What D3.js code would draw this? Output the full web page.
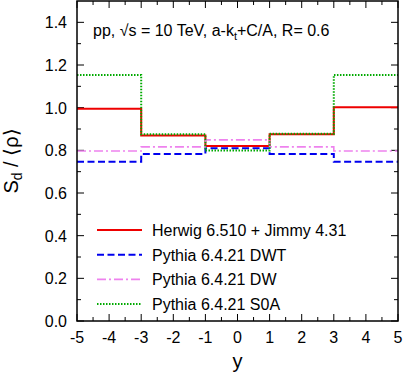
<!DOCTYPE html>
<html>
<head>
<meta charset="utf-8">
<script src="https://cdn.jsdelivr.net/npm/d3@7"></script>
<style>
  body { margin: 0; background: #fff; }
  text { font-family: "Liberation Sans", Arial, sans-serif; }
</style>
</head>
<body>
<div id="chart"></div>
<script>
var svgWidth = 405;
var svgHeight = 374;

// bin edges in y, and S_d/<rho> per bin
var binEdges = [-5, -3, -1, 1, 3, 5];
var herwig = [0.995, 0.870, 0.820, 0.875, 1.002];
var pythiaDWT = [0.747, 0.783, 0.810, 0.783, 0.747];
var pythiaDW = [0.797, 0.816, 0.849, 0.816, 0.797];
var pythiaS0A = [1.153, 0.875, 0.799, 0.878, 1.153];

var seriesNames = ["Herwig 6.510 + Jimmy 4.31", "Pythia 6.4.21 DWT", "Pythia 6.4.21 DW", "Pythia 6.4.21 S0A"];
var xTicks = [-5, -4, -3, -2, -1, 0, 1, 2, 3, 4, 5];
var yTicks = [0.0, 0.2, 0.4, 0.6, 0.8, 1.0, 1.2, 1.4];

var chartMargin = { top: 1, right: 7, bottom: 53, left: 77 };
var chartWidth = svgWidth - chartMargin.left - chartMargin.right;
var chartHeight = svgHeight - chartMargin.top - chartMargin.bottom;

var svg = d3.select("#chart").append("svg")
  .attr("width", svgWidth)
  .attr("height", svgHeight);

var chartGroup = svg.append("g")
  .attr("transform", `translate(${chartMargin.left}, ${chartMargin.top})`);

var xScale = d3.scaleLinear().domain([-5, 5]).range([0, chartWidth]);
var yScale = d3.scaleLinear().domain([0, 1.5]).range([chartHeight, 0]);

// ticks on all four sides, pointing inward
var majLen = 7, minLen = 4;
var xMinor = d3.range(-4.5, 5, 1);
var yMinor = d3.range(0.1, 1.5, 0.2);

function tickLines(vals, len, horizontal) {
  vals.forEach(function(v) {
    if (horizontal) {
      var x = xScale(v);
      chartGroup.append("line").attr("x1", x).attr("x2", x)
        .attr("y1", chartHeight).attr("y2", chartHeight - len).attr("stroke", "#000");
      chartGroup.append("line").attr("x1", x).attr("x2", x)
        .attr("y1", 0).attr("y2", len).attr("stroke", "#000");
    } else {
      var y = yScale(v);
      chartGroup.append("line").attr("x1", 0).attr("x2", len)
        .attr("y1", y).attr("y2", y).attr("stroke", "#000");
      chartGroup.append("line").attr("x1", chartWidth).attr("x2", chartWidth - len)
        .attr("y1", y).attr("y2", y).attr("stroke", "#000");
    }
  });
}
tickLines(xTicks, majLen, true);
tickLines(xMinor, minLen, true);
tickLines(yTicks, majLen, false);
tickLines(yMinor, minLen, false);

// tick labels
chartGroup.selectAll(".xlab").data(xTicks).enter().append("text")
  .attr("x", d => xScale(d))
  .attr("y", chartHeight + 22)
  .attr("text-anchor", "middle")
  .style("font-size", "16px")
  .text(d => d);

chartGroup.selectAll(".ylab").data(yTicks).enter().append("text")
  .attr("x", -10)
  .attr("y", d => yScale(d) + 6)
  .attr("text-anchor", "end")
  .style("font-size", "16px")
  .text(d => d.toFixed(1));

// axis titles
chartGroup.append("text")
  .attr("x", chartWidth / 2)
  .attr("y", chartHeight + 47)
  .attr("text-anchor", "middle")
  .style("font-size", "20px")
  .text("y");

var yTitle = svg.append("text")
  .attr("transform", `translate(18, ${chartMargin.top + chartHeight / 2}) rotate(-90)`)
  .attr("text-anchor", "middle")
  .style("font-size", "20px");
yTitle.append("tspan").text("S");
yTitle.append("tspan").attr("dy", 4).style("font-size", "14px").text("d");
yTitle.append("tspan").attr("dy", -4).text(" / \u27E8\u03C1\u27E9");

// step curves
var styles = [
  { color: "#ee0000", dash: null, width: 2 },
  { color: "#0000ee", dash: "7,3.5", width: 2 },
  { color: "#ee82ee", dash: "9,3,2,3", width: 1.6 },
  { color: "#00aa00", dash: "1.5,1.5", width: 2 }
];
var allSeries = [herwig, pythiaDWT, pythiaDW, pythiaS0A];

var stepLine = d3.line()
  .x(d => xScale(d[0]))
  .y(d => yScale(d[1]))
  .curve(d3.curveStepAfter);

allSeries.forEach(function(vals, i) {
  var pts = vals.map((v, j) => [binEdges[j], v]);
  pts.push([binEdges[binEdges.length - 1], vals[vals.length - 1]]);
  chartGroup.append("path")
    .datum(pts)
    .attr("d", stepLine)
    .attr("fill", "none")
    .attr("stroke", styles[i].color)
    .attr("stroke-width", styles[i].width)
    .attr("stroke-dasharray", styles[i].dash);
});

// frame
chartGroup.append("rect")
  .attr("width", chartWidth).attr("height", chartHeight)
  .attr("fill", "none").attr("stroke", "#000").attr("stroke-width", 1.5);

// header text
var head = chartGroup.append("text")
  .attr("x", 16).attr("y", 35)
  .style("font-size", "16px");
head.append("tspan").text("pp, \u221As = 10 TeV, a-k");
head.append("tspan").attr("dy", 4).style("font-size", "11px").text("t");
head.append("tspan").attr("dy", -4).text("+C/A, R= 0.6");

// legend
seriesNames.forEach(function(name, i) {
  var y = 230 + i * 24.7;
  svg.append("line")
    .attr("x1", 97).attr("x2", 142)
    .attr("y1", y).attr("y2", y)
    .attr("stroke", styles[i].color)
    .attr("stroke-width", styles[i].width)
    .attr("stroke-dasharray", styles[i].dash);
  svg.append("text")
    .attr("x", 152).attr("y", y + 6)
    .style("font-size", "16px")
    .text(name);
});
</script>
</body>
</html>
